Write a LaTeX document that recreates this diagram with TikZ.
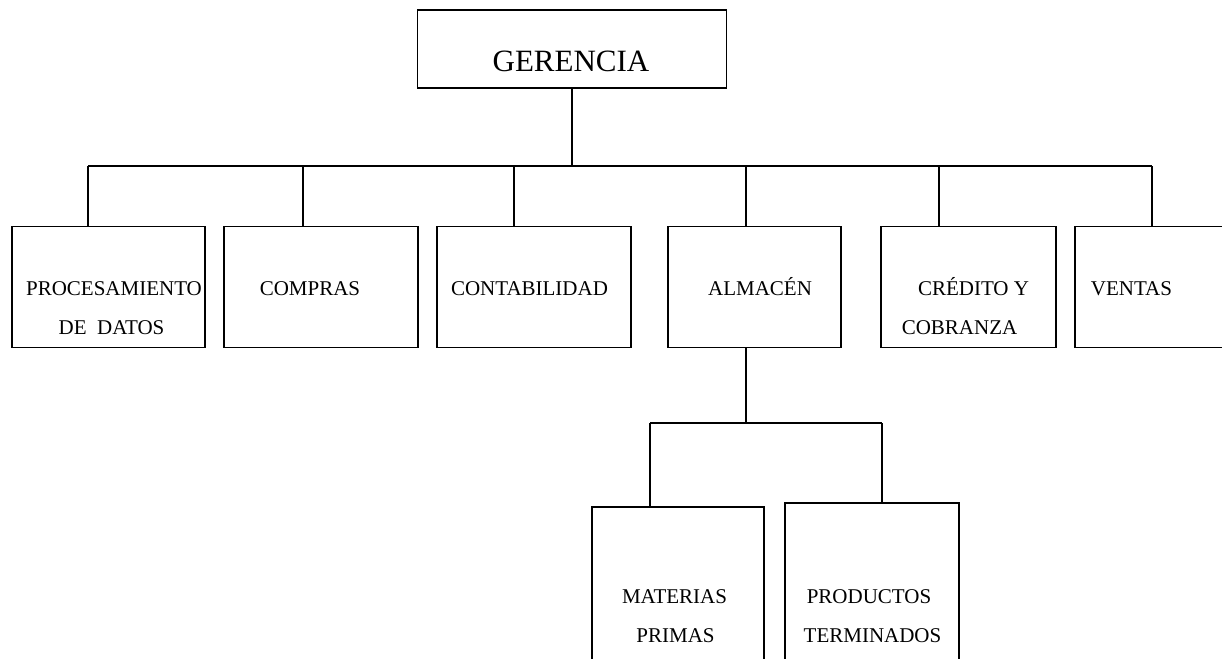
\documentclass[tikz,border=0pt]{standalone}
\usepackage{fontspec}
\setmainfont{Liberation Serif}
\begin{document}
\begin{tikzpicture}[x=1pt,y=-1pt,
  box/.style={draw=black,line width=1.3pt,inner sep=0pt,rectangle},
  lbl/.style={inner sep=0pt,anchor=base,font=\fontsize{21}{25}\selectfont},
  big/.style={inner sep=0pt,anchor=base,font=\fontsize{31}{36}\selectfont},
  link/.style={draw=black,line width=1.3pt}]
\useasboundingbox (0,0) rectangle (1222,658);
\clip (0,0) rectangle (1222,658);
\fill[white] (0,0) rectangle (1222,658);

% boxes
\node[box,minimum width=309pt,minimum height=78pt] (ger) at (572,49) {};
\node[box,minimum width=193pt,minimum height=121pt] (proc) at (108.5,287) {};
\node[box,minimum width=194pt,minimum height=121pt] (comp) at (321,287) {};
\node[box,minimum width=194pt,minimum height=121pt] (cont) at (534,287) {};
\node[box,minimum width=173pt,minimum height=121pt] (alm) at (754.5,287) {};
\node[box,minimum width=175pt,minimum height=121pt] (cred) at (968.5,287) {};
\node[box,minimum width=190pt,minimum height=121pt] (vent) at (1170,287) {};
\node[box,minimum width=172pt,minimum height=200pt] (mat) at (678,607) {};
\node[box,minimum width=174pt,minimum height=204pt] (prod) at (872,605) {};

% labels
\node[big] (tger) at (571,72) {GERENCIA};
\node[lbl] (tproc1) at (114,295) {PROCESAMIENTO};
\node[lbl] (tproc2) at (111.5,334) {DE\ \ DATOS};
\node[lbl] (tcomp) at (310,295) {COMPRAS};
\node[lbl] (tcont) at (529.5,295) {CONTABILIDAD};
\node[lbl] (talm) at (760,295) {ALMACÉN};
\node[lbl] (tcred1) at (973.5,295) {CRÉDITO Y};
\node[lbl] (tcred2) at (959.5,334) {COBRANZA};
\node[lbl] (tvent) at (1131.5,295) {VENTAS};
\node[lbl] (tmat1) at (674.5,603) {MATERIAS};
\node[lbl] (tmat2) at (675.5,642) {PRIMAS};
\node[lbl] (tprod1) at (869,603) {PRODUCTOS};
\node[lbl] (tprod2) at (872.5,642) {TERMINADOS};

% bus coordinates
\coordinate (busL) at (88,166);
\coordinate (busR) at (1152,166);
\coordinate (s1) at (88,166);
\coordinate (s2) at (303,166);
\coordinate (s3) at (514,166);
\coordinate (s4) at (746,166);
\coordinate (s5) at (939,166);
\coordinate (s6) at (1152,166);
\coordinate (a0) at (746,347);
\coordinate (a1) at (650,423);
\coordinate (a2) at (882,423);

% connectors
\draw[link] (ger.south) -- (ger.south |- busL);
\draw[link] (busL) -- (busR);
\draw[link] (s1) -- (s1 |- proc.north);
\draw[link] (s2) -- (s2 |- comp.north);
\draw[link] (s3) -- (s3 |- cont.north);
\draw[link] (s4) -- (s4 |- alm.north);
\draw[link] (s5) -- (s5 |- cred.north);
\draw[link] (s6) -- (s6 |- vent.north);
\draw[link] (a0 |- alm.south) -- (a0 |- a1);
\draw[link] (a1) -- (a2);
\draw[link] (a1) -- (a1 |- mat.north);
\draw[link] (a2) -- (a2 |- prod.north);
\end{tikzpicture}
\end{document}
